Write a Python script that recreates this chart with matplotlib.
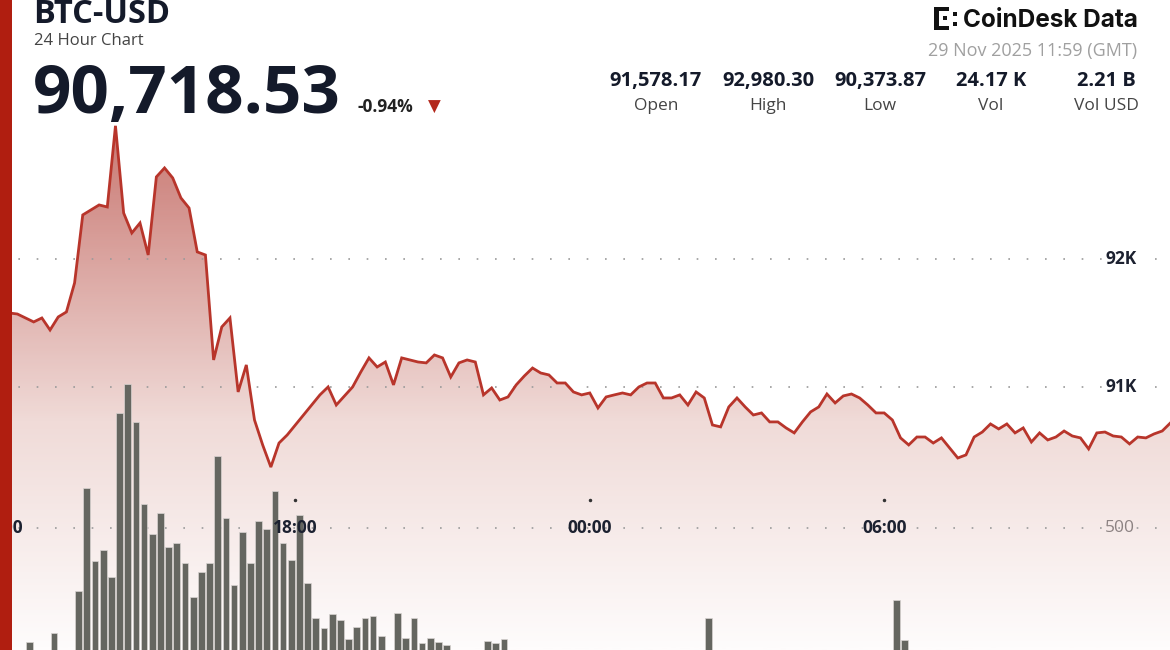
import numpy as np
import matplotlib
matplotlib.use('Agg')
import matplotlib.pyplot as plt
from matplotlib.colors import LinearSegmentedColormap
from matplotlib.patches import Rectangle, Polygon

plt.rcParams['font.family'] = ['Open Sans', 'DejaVu Sans']

# BTC-USD, 10 minute closes, 28 Nov 12:00 -> 29 Nov 11:50 GMT
price = [
    91578, 91578, 91570, 91539, 91508, 91539, 91445, 91547, 91586, 91813,
    92344, 92383, 92422, 92406, 93040, 92359, 92203, 92281, 92031, 92641,
    92711, 92633, 92477, 92398, 92055, 92031, 91211, 91469, 91539, 90961,
    91172, 90742, 90547, 90374, 90562, 90625, 90703, 90781, 90859, 90938,
    91000, 90859, 90930, 91000, 91117, 91227, 91156, 91195, 91016, 91227,
    91211, 91195, 91188, 91250, 91227, 91078, 91188, 91211, 91195, 90938,
    90992, 90898, 90922, 91016, 91086, 91148, 91109, 91094, 91031, 91031,
    90961, 90938, 90953, 90836, 90922, 90938, 90953, 90938, 91000, 91031,
    91031, 90914, 90914, 90938, 90859, 90961, 90914, 90703, 90688, 90844,
    90914, 90844, 90781, 90797, 90727, 90727, 90680, 90641, 90727, 90805,
    90844, 90945, 90875, 90930, 90945, 90914, 90859, 90797, 90797, 90742,
    90602, 90547, 90609, 90609, 90562, 90602, 90523, 90445, 90469, 90609,
    90648, 90711, 90672, 90711, 90641, 90680, 90570, 90641, 90586, 90609,
    90656, 90617, 90602, 90516, 90641, 90648, 90617, 90609, 90555, 90609,
    90602, 90633, 90656, 90719,
]

# volume (BTC) per 10 minutes
volume = [
    20, 25, 15, 84, 30, 35, 117, 40, 45, 271,
    645, 381, 420, 322, 921, 1026, 886, 587, 477, 554,
    432, 444, 371, 249, 341, 373, 763, 538, 292, 487,
    373, 526, 495, 636, 446, 383, 547, 298, 173, 134,
    186, 164, 94, 138, 170, 180, 106, 45, 189, 97,
    170, 79, 100, 85, 73, 40, 35, 30, 45, 88,
    80, 95, 30, 25, 35, 20, 40, 28, 22, 30,
    18, 25, 35, 45, 30, 20, 15, 25, 30, 40,
    22, 18, 26, 35, 30, 28, 172, 40, 35, 25,
    20, 30, 28, 22, 18, 35, 40, 45, 30, 25,
    20, 28, 32, 38, 25, 20, 30, 35, 42, 237,
    91, 40, 35, 30, 45, 50, 38, 28, 22, 30,
    35, 40, 25, 20, 18, 30, 28, 25, 35, 30,
    22, 20, 25, 30, 35, 28, 22, 20, 18, 25,
    30, 28, 22, 20,
]

time_ticks = [0, 36, 72, 108]
time_labels = ['12:00', '18:00', '00:00', '06:00']
price_ticks = [91000, 92000]
price_labels = ['91K', '92K']
vol_ticks = [500]
vol_labels = ['500']

stat_values = ['91,578.17', '92,980.30', '90,373.87', '24.17 K', '2.21 B']
stat_names = ['Open', 'High', 'Low', 'Vol', 'Vol USD']

W, H = 1170, 650
fig = plt.figure(figsize=(W / 100, H / 100), dpi=100)
fig.patch.set_facecolor('white')


def fx(px):
    return px / W


def fy(py):
    return 1 - py / H


x = np.arange(len(price))
xlim = (-0.12, 142.95)
plim = (88945, 94023)
vlim = (55, 2427)

# price axes: gradient area + grid
ax = fig.add_axes([0, 0, 1, 1])
ax.set_xlim(*xlim)
ax.set_ylim(*plim)
ax.axis('off')

cmap = LinearSegmentedColormap.from_list(
    'area', [(0.0, '#fefcfc'), (0.35, '#f0dbd8'), (0.815, '#c87670'), (1.0, '#bb645e')])
grad = np.linspace(0, 1, 300).reshape(-1, 1)
im = ax.imshow(grad, extent=[xlim[0], xlim[1], plim[0], plim[1]], origin='lower',
               aspect='auto', cmap=cmap, zorder=1)
verts = [(x[0], plim[0])] + list(zip(x, price)) + [(x[-1], plim[0])]
clip = Polygon(verts, closed=True, facecolor='none', edgecolor='none', transform=ax.transData)
ax.add_patch(clip)
im.set_clip_path(clip)

for v in price_ticks:
    ax.axhline(v, color='#9a9a9a', lw=1.2, ls=(0, (1, 10)), zorder=2)

# volume axes
axv = ax.twinx()
axv.set_ylim(*vlim)
axv.axis('off')
axv.bar(x + 0.5, volume, width=0.82, color='#656660', edgecolor='#d9d4d2', linewidth=0.5, zorder=3)
for v in vol_ticks:
    axv.axhline(v, color='#9a9a9a', lw=1.2, ls=(0, (1, 10)), zorder=2)

# price line on top
axl = ax.twinx()
axl.set_ylim(*plim)
axl.axis('off')
axl.plot(x, price, color='#b8352b', lw=2.0, solid_joinstyle='miter', zorder=4)

# axis labels
for t, lab in zip(time_ticks, time_labels):
    axl.text(t, 0.188, lab, transform=axl.get_xaxis_transform(), ha='center', va='center',
             fontsize=12.5, fontweight='bold', color='#1c2130', zorder=6)
    axl.plot([t], [0.231], marker='o', ms=1.5, color='#333333', transform=axl.get_xaxis_transform(),
             zorder=6)
for v, lab in zip(price_ticks, price_labels):
    axl.text(0.958, v, lab, transform=axl.get_yaxis_transform(), ha='center', va='center',
             fontsize=12.5, fontweight='bold', color='#1c2130', zorder=6,
             bbox=dict(facecolor='white', edgecolor='none', pad=2))
for v, lab in zip(vol_ticks, vol_labels):
    axv.text(0.957, v, lab, transform=axv.get_yaxis_transform(), ha='center', va='center',
             fontsize=12.5, color='#8c8282', zorder=6)

# left red stripe
fig.patches.append(Rectangle((0, 0), fx(12), 1, transform=fig.transFigure,
                             facecolor='#b01e10', edgecolor='none', zorder=10))

# header, left
fig.text(fx(33), fy(23), 'BTC-USD', fontsize=23.5, fontweight='bold', color='#141a2a',
         ha='left', va='baseline')
fig.text(fx(34), fy(45), '24 Hour Chart', fontsize=12, color='#444444', ha='left', va='baseline')
fig.text(fx(33), fy(113), '90,718.53', fontsize=48.5, fontweight='bold', color='#141a2a',
         ha='left', va='baseline')
fig.text(fx(357), fy(112), '-0.94%', fontsize=12.5, fontweight='bold', color='#222222',
         ha='left', va='baseline')
fig.text(fx(434), fy(107), '\u25bc', fontsize=12, color='#b3281c', ha='center', va='center',
         family=['DejaVu Sans'])

# header, right: logo
fig.text(fx(1138), fy(27), 'CoinDesk Data', fontsize=17.5, fontweight='bold', color='#111111',
         ha='right', va='baseline', family=['Inter', 'DejaVu Sans'])
icon = [(934, 7, 5, 23), (934, 7, 15, 4), (934, 26, 15, 4), (943, 16, 4, 4),
        (953, 12, 4, 4), (953, 22, 4, 4)]
for bx, by, bw, bh in icon:
    fig.patches.append(Rectangle((fx(bx), fy(by + bh)), bw / W, bh / H, transform=fig.transFigure,
                                 facecolor='#111111', edgecolor='none'))
fig.text(fx(1137), fy(56), '29 Nov 2025 11:59 (GMT)', fontsize=13, color='#a0a0a0',
         ha='right', va='baseline')

stat_x = [656, 768, 880, 991, 1106]
for sx, val, name in zip(stat_x, stat_values, stat_names):
    fig.text(fx(sx), fy(86), val, fontsize=14.5, fontweight='bold', color='#141a2a',
             ha='center', va='baseline')
    fig.text(fx(sx), fy(110), name, fontsize=12.5, color='#444444', ha='center', va='baseline')

fig.savefig('out.png', dpi=100)
